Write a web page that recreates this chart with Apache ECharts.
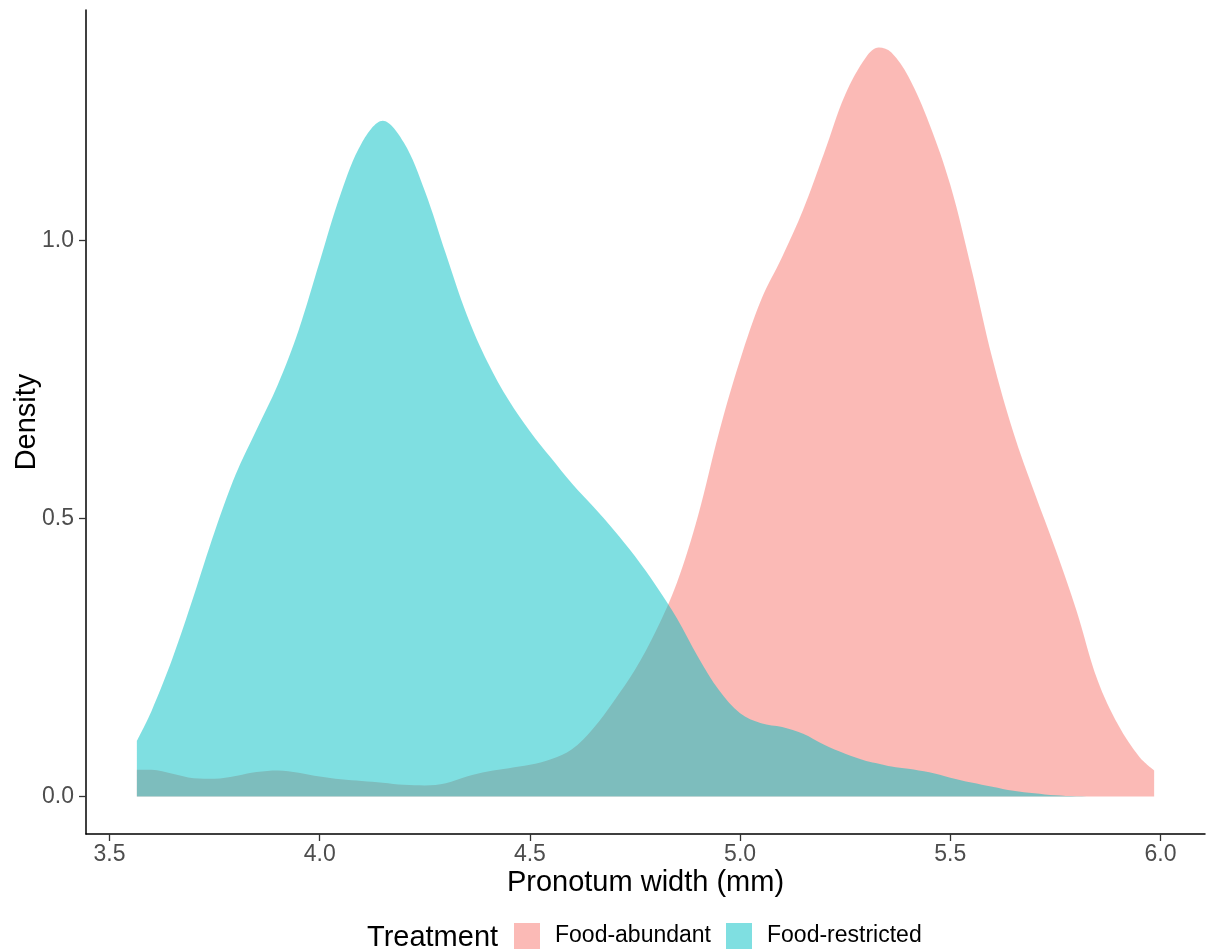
<!DOCTYPE html>
<html>
<head>
<meta charset="utf-8">
<title>Pronotum width density</title>
<script src="https://cdn.jsdelivr.net/npm/echarts@6/dist/echarts.min.js"></script>
<style>
  html, body { margin: 0; padding: 0; background: #ffffff; }
  #chart { width: 1206px; height: 952px; }
</style>
</head>
<body>
<div id="chart"></div>
<script>
// Evaluation grid for the kernel density estimates (pronotum width, mm)
const widthGrid = [
  3.565, 3.60, 3.65, 3.70, 3.75, 3.80, 3.85, 3.90, 3.95, 4.00,
  4.05, 4.10, 4.15, 4.20, 4.25, 4.30, 4.35, 4.40, 4.45, 4.50,
  4.55, 4.60, 4.65, 4.70, 4.75, 4.80, 4.85, 4.90, 4.95, 5.00,
  5.05, 5.10, 5.15, 5.20, 5.25, 5.30, 5.33, 5.36, 5.40, 5.45, 5.50,
  5.55, 5.60, 5.65, 5.70, 5.75, 5.80, 5.85, 5.90, 5.95, 5.985
];

// Density of the food-abundant group
const densityAbundant = [
  0.048, 0.048, 0.041, 0.033, 0.032, 0.037, 0.044, 0.047, 0.043, 0.036,
  0.031, 0.028, 0.025, 0.021, 0.020, 0.024, 0.036, 0.045, 0.051, 0.057,
  0.067, 0.085, 0.122, 0.172, 0.228, 0.298, 0.385, 0.505, 0.655, 0.785,
  0.893, 0.970, 1.055, 1.157, 1.262, 1.330, 1.347, 1.338, 1.295, 1.210, 1.100,
  0.950, 0.788, 0.655, 0.547, 0.445, 0.335, 0.210, 0.128, 0.071, 0.047
];

// Density of the food-restricted group
const densityRestricted = [
  0.100, 0.154, 0.249, 0.360, 0.476, 0.579, 0.660, 0.740, 0.839, 0.962,
  1.084, 1.175, 1.215, 1.176, 1.089, 0.976, 0.866, 0.780, 0.712, 0.657,
  0.609, 0.563, 0.522, 0.479, 0.432, 0.379, 0.320, 0.251, 0.191, 0.150,
  0.132, 0.125, 0.113, 0.093, 0.077, 0.064, 0.059, 0.054, 0.050, 0.0435, 0.034,
  0.0253, 0.0178, 0.0105, 0.006, 0.0022, 0.0004, 0.0001, 0, 0, 0
];

const groupNames = ['Food-abundant', 'Food-restricted'];
const groupFills = ['rgba(248,118,109,0.5)', 'rgba(0,191,196,0.5)'];

const xTicks = [3.5, 4.0, 4.5, 5.0, 5.5, 6.0];
const yTicks = [0, 0.5, 1.0];

const xTitle = 'Pronotum width (mm)';
const yTitle = 'Density';
const legendTitle = 'Treatment';

function pairs(xs, ys) {
  return xs.map((x, i) => [x, ys[i]]);
}

// Panel limits padded 5% beyond the data on every side
const xLo = widthGrid[0], xHi = widthGrid[widthGrid.length - 1];
const xPad = (xHi - xLo) * 0.05;
const yMax = Math.max(...densityAbundant, ...densityRestricted);
const yPad = yMax * 0.05;

const FONT = 'Liberation Sans, Arial, Helvetica, sans-serif';

const chart = echarts.init(document.getElementById('chart'), null, { renderer: 'canvas' });

const seriesValues = [densityAbundant, densityRestricted];

chart.setOption({
  backgroundColor: '#ffffff',
  animation: false,
  grid: { left: 86, right: 1, top: 10, bottom: 118, containLabel: false, outerBoundsMode: 'none' },
  xAxis: {
    type: 'value',
    min: xLo - xPad,
    max: xHi + xPad,
    name: xTitle,
    nameLocation: 'middle',
    nameGap: 34,
    nameMoveOverlap: false,
    nameTextStyle: { fontFamily: FONT, fontSize: 29, color: '#000000' },
    axisLine: { show: true, onZero: false, lineStyle: { color: '#000000', width: 1.5 } },
    axisTick: { show: true, length: 7, customValues: xTicks, lineStyle: { color: '#333333', width: 1.3 } },
    axisLabel: {
      customValues: xTicks,
      formatter: v => v.toFixed(1),
      margin: 9,
      fontFamily: FONT, fontSize: 23, color: '#4D4D4D'
    },
    splitLine: { show: false }
  },
  yAxis: {
    type: 'value',
    min: -yPad,
    max: yMax + yPad,
    name: yTitle,
    nameLocation: 'middle',
    nameGap: 45,
    nameRotate: 90,
    nameMoveOverlap: false,
    nameTextStyle: { fontFamily: FONT, fontSize: 29, color: '#000000' },
    axisLine: { show: true, onZero: false, lineStyle: { color: '#000000', width: 1.5 } },
    axisTick: { show: true, length: 7, customValues: yTicks, lineStyle: { color: '#333333', width: 1.3 } },
    axisLabel: {
      customValues: yTicks,
      formatter: v => v.toFixed(1),
      margin: 12,
      fontFamily: FONT, fontSize: 23, color: '#4D4D4D'
    },
    splitLine: { show: false }
  },
  legend: {
    left: 514,
    top: 923,
    orient: 'horizontal',
    icon: 'rect',
    itemWidth: 26,
    itemHeight: 26,
    itemGap: 15,
    padding: 0,
    data: groupNames.map((n, i) => ({ name: n, itemStyle: { color: groupFills[i], opacity: 1 } })),
    textStyle: { fontFamily: FONT, fontSize: 23, color: '#000000', padding: [5, 0, 0, 10] }
  },
  graphic: [
    {
      type: 'text',
      left: 367,
      top: 923,
      style: { text: legendTitle, font: '29px ' + FONT, fill: '#000000' }
    }
  ],
  series: groupNames.map((name, i) => ({
    name: name,
    type: 'line',
    data: pairs(widthGrid, seriesValues[i]),
    smooth: 0.35,
    symbol: 'none',
    lineStyle: { width: 0, opacity: 0 },
    itemStyle: { color: groupFills[i] },
    areaStyle: { color: groupFills[i], opacity: 1, origin: 0 },
    z: 2 + i
  }))
});
</script>
</body>
</html>
